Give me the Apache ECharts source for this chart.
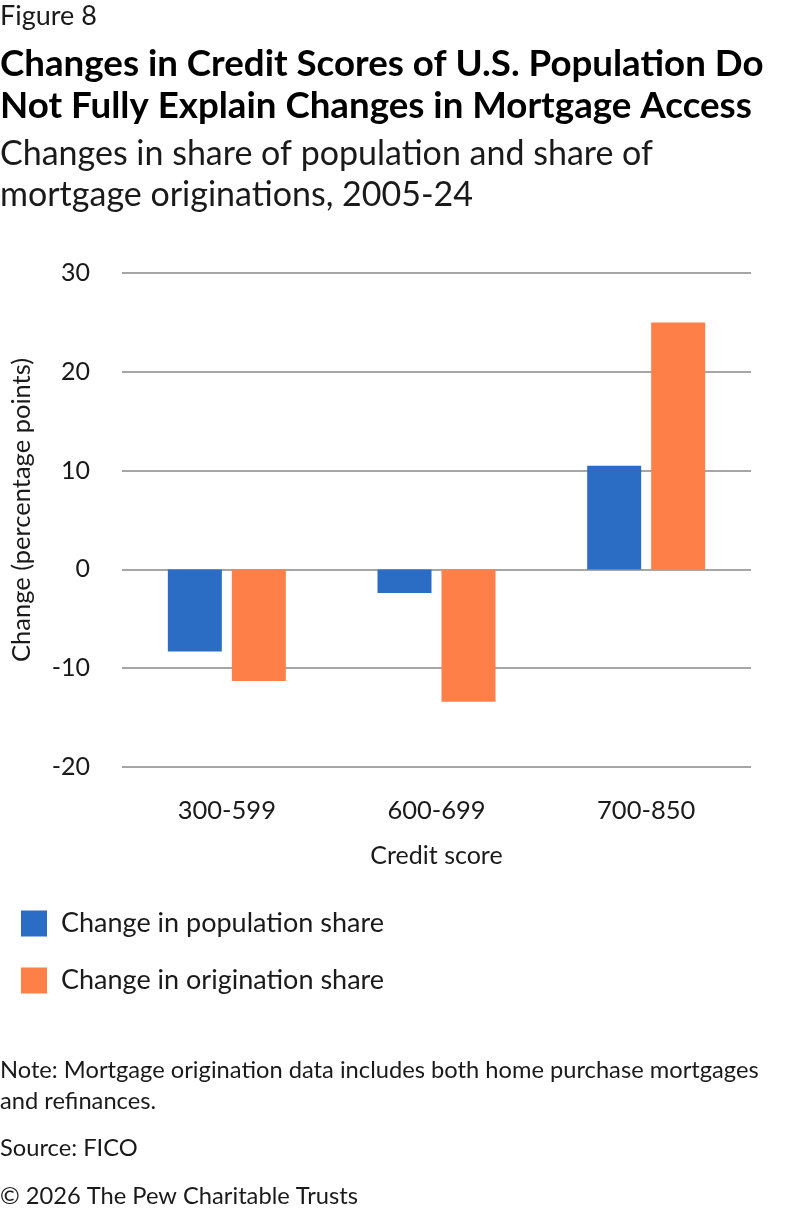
<!DOCTYPE html>
<html lang="en" style="height: 100%">
<head>
  <meta charset="utf-8">
</head>
<body style="height: 100%; margin: 0">
  <div id="container" style="width: 792px; height: 1214px"></div>
  <script type="text/javascript" src="https://cdn.jsdelivr.net/npm/echarts@6/dist/echarts.min.js"></script>
  <script type="text/javascript">
    var categories = ['300-599', '600-699', '700-850'];
    var seriesNames = ['Change in population share', 'Change in origination share'];
    var populationShare = [-8.3, -2.4, 10.5];
    var originationShare = [-11.3, -13.4, 25.0];
    var yTicks = [-20, -10, 0, 10, 20, 30];

    var FONT = 'Lato';
    var INK = '#1a1a1a';

    var dom = document.getElementById('container');
    var myChart = echarts.init(dom, null, { renderer: 'canvas' });

    var option = {
      backgroundColor: '#ffffff',
      animation: false,
      textStyle: { fontFamily: FONT, color: INK },
      title: [
        {
          text: 'Figure 8',
          left: 0, top: 3, padding: 0,
          textStyle: { fontFamily: FONT, fontSize: 27, fontWeight: 'normal', color: INK }
        },
        {
          text: 'Changes in Credit Scores of U.S. Population Do\nNot Fully Explain Changes in Mortgage Access',
          left: 0, top: 43, padding: 0,
          textStyle: { fontFamily: FONT, fontSize: 36.7, fontWeight: 'bold', color: '#000', lineHeight: 42 }
        },
        {
          text: 'Changes in share of population and share of\nmortgage originations, 2005-24',
          left: 0, top: 134, padding: 0,
          textStyle: { fontFamily: FONT, fontSize: 34, fontWeight: 'normal', color: INK, lineHeight: 41 }
        },
        {
          text: 'Note: Mortgage origination data includes both home purchase mortgages\nand refinances.',
          left: 0, top: 1055, padding: 0,
          textStyle: { fontFamily: FONT, fontSize: 23.7, fontWeight: 'normal', color: INK, lineHeight: 31 }
        },
        {
          text: 'Source: FICO',
          left: 0, top: 1136, padding: 0,
          textStyle: { fontFamily: FONT, fontSize: 23.7, fontWeight: 'normal', color: INK }
        },
        {
          text: '\u00a9 2026 The Pew Charitable Trusts',
          left: 0, top: 1184, padding: 0,
          textStyle: { fontFamily: FONT, fontSize: 23.7, fontWeight: 'normal', color: INK }
        }
      ],
      graphic: [
        {
          type: 'text',
          x: 9, y: 510,
          rotation: Math.PI / 2,
          style: {
            text: 'Change (percentage points)',
            fontFamily: FONT, fontSize: 25.5, fill: INK,
            align: 'center', verticalAlign: 'top'
          }
        }
      ],
      legend: {
        data: seriesNames,
        orient: 'vertical',
        left: 21, top: 910, padding: 0,
        itemWidth: 26, itemHeight: 26,
        itemGap: 30,
        icon: 'rect',
        selectedMode: false,
        textStyle: { fontFamily: FONT, fontSize: 27, color: INK, padding: [0, 0, 0, 9] }
      },
      grid: { left: 122, right: 41, top: 273, bottom: 447 },
      xAxis: {
        type: 'category',
        data: categories,
        name: 'Credit score',
        nameLocation: 'middle',
        nameGap: 76,
        nameTextStyle: { fontFamily: FONT, fontSize: 25, color: INK },
        axisLine: { show: false },
        axisTick: { show: false },
        axisLabel: { fontFamily: FONT, fontSize: 25.5, color: INK, margin: 31 }
      },
      yAxis: {
        type: 'value',
        min: yTicks[0],
        max: yTicks[yTicks.length - 1],
        interval: 10,
        axisLine: { show: false },
        axisTick: { show: false },
        axisLabel: { fontFamily: FONT, fontSize: 25, color: INK, margin: 32 },
        splitLine: { lineStyle: { color: '#a6a6a6', width: 2 } }
      },
      series: [
        {
          name: seriesNames[0],
          type: 'bar',
          data: populationShare,
          barWidth: 54,
          barGap: '18.5%',
          itemStyle: { color: '#2b6dc4' }
        },
        {
          name: seriesNames[1],
          type: 'bar',
          data: originationShare,
          barWidth: 54,
          barGap: '18.5%',
          itemStyle: { color: '#ff7f48' }
        }
      ]
    };

    myChart.setOption(option);
    window.addEventListener('resize', myChart.resize);
  </script>
</body>
</html>
